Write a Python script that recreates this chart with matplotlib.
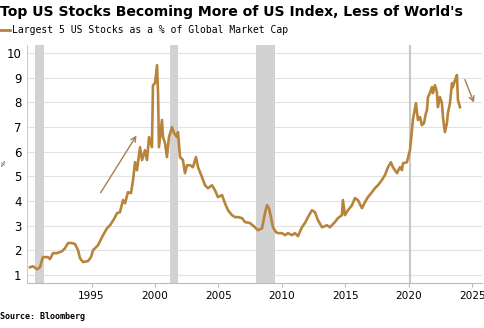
import matplotlib.pyplot as plt

# Largest 5 US stocks as % of global market cap
years = [1990.16, 1990.39, 1990.71, 1990.94, 1991.10, 1991.18, 1991.57, 1991.73, 1991.97, 1992.28,
         1992.68, 1992.91, 1993.15, 1993.46, 1993.70, 1993.94, 1994.09, 1994.33, 1994.72, 1994.96,
         1995.12, 1995.51, 1995.91, 1996.22, 1996.46, 1996.77, 1997.01, 1997.24, 1997.48, 1997.64,
         1997.87, 1998.11, 1998.27, 1998.43, 1998.58, 1998.82, 1998.98, 1999.21, 1999.37, 1999.53,
         1999.76, 1999.84, 2000.00, 2000.16, 2000.24, 2000.31, 2000.55, 2000.63, 2000.79, 2000.94,
         2001.10, 2001.34, 2001.50, 2001.73, 2001.81, 2001.97, 2002.20, 2002.36, 2002.52, 2002.76,
         2002.99, 2003.23, 2003.39, 2003.70, 2003.94, 2004.17, 2004.49, 2004.72, 2004.96, 2005.28,
         2005.51, 2005.75, 2006.06, 2006.30, 2006.54, 2006.85, 2007.09, 2007.48, 2007.87, 2008.11,
         2008.43, 2008.66, 2008.82, 2008.98, 2009.13, 2009.29, 2009.53, 2009.69, 2010.00, 2010.24,
         2010.47, 2010.79, 2011.02, 2011.26, 2011.57, 2011.81, 2012.05, 2012.36, 2012.60, 2012.83,
         2013.15, 2013.54, 2013.78, 2014.17, 2014.41, 2014.72, 2014.80, 2014.96, 2015.20, 2015.51,
         2015.75, 2015.98, 2016.30, 2016.54, 2016.77, 2017.09, 2017.32, 2017.56, 2017.87, 2018.11,
         2018.35, 2018.58, 2018.74, 2019.06, 2019.29, 2019.45, 2019.53, 2019.84, 2019.92, 2020.08,
         2020.24, 2020.31, 2020.55, 2020.71, 2020.87, 2021.02, 2021.18, 2021.34, 2021.42, 2021.50,
         2021.65, 2021.81, 2021.89, 2022.05, 2022.20, 2022.28, 2022.44, 2022.60, 2022.68, 2022.83,
         2022.99, 2023.07, 2023.23, 2023.39, 2023.46, 2023.62, 2023.78, 2023.86, 2024.02]
share = [1.32, 1.36, 1.24, 1.32, 1.61, 1.73, 1.73, 1.65, 1.89, 1.89,
         1.97, 2.09, 2.30, 2.30, 2.26, 2.01, 1.69, 1.53, 1.57, 1.73,
         2.01, 2.21, 2.62, 2.90, 3.02, 3.27, 3.51, 3.55, 4.04, 3.91,
         4.36, 4.32, 4.85, 5.57, 5.25, 6.18, 5.66, 6.06, 5.66, 6.59,
         6.18, 8.69, 8.77, 9.50, 8.37, 6.18, 7.28, 6.59, 6.34, 5.78,
         6.59, 6.99, 6.75, 6.59, 6.79, 5.78, 5.66, 5.13, 5.45, 5.45,
         5.37, 5.78, 5.37, 4.97, 4.64, 4.52, 4.64, 4.44, 4.16, 4.24,
         3.91, 3.63, 3.43, 3.35, 3.35, 3.31, 3.15, 3.11, 2.94, 2.82,
         2.90, 3.51, 3.83, 3.71, 3.35, 2.94, 2.74, 2.70, 2.70, 2.62,
         2.70, 2.62, 2.70, 2.58, 2.94, 3.11, 3.35, 3.63, 3.55, 3.23,
         2.94, 3.02, 2.94, 3.15, 3.31, 3.43, 4.04, 3.43, 3.63, 3.83,
         4.12, 4.04, 3.71, 3.96, 4.16, 4.36, 4.52, 4.64, 4.85, 5.05,
         5.37, 5.57, 5.37, 5.13, 5.37, 5.25, 5.53, 5.57, 5.74, 6.06,
         6.87, 7.28, 7.96, 7.28, 7.40, 7.07, 7.15, 7.56, 7.68, 8.21,
         8.37, 8.61, 8.37, 8.69, 8.41, 7.80, 8.21, 7.96, 7.40, 6.79,
         7.15, 7.56, 7.96, 8.77, 8.61, 8.89, 9.10, 8.09, 7.80]

recessions = [(1990.55, 1991.22), (2001.2, 2001.85), (2007.95, 2009.45)]
covid_line = 2020.12

xticks = [1995, 2000, 2005, 2010, 2015, 2020, 2025]
yticks = list(range(1, 11))

line_color = '#b8843c'
arrow_color = '#a4804f'

fig = plt.figure(figsize=(4.85, 3.28), dpi=100)
ax = fig.add_axes([0.0557, 0.137, 0.938, 0.726])

for start, end in recessions:
    ax.axvspan(start, end, color='#d2d2d2', lw=0, zorder=1)
ax.axvline(covid_line, color='#c8c8c8', lw=1.5, zorder=1)

ax.plot(years, share, color=line_color, lw=1.9, zorder=3)

ax.annotate('', xy=(1998.66, 6.75), xytext=(1995.6, 4.24),
            arrowprops=dict(arrowstyle='->', color=arrow_color, lw=1.0, mutation_scale=9))
ax.annotate('', xy=(2025.2, 7.88), xytext=(2024.33, 9.02),
            arrowprops=dict(arrowstyle='->', color=arrow_color, lw=1.0, mutation_scale=9))

ax.set_xlim(1989.92, 2025.75)
ax.set_ylim(0.68, 10.32)
ax.set_xticks(xticks)
ax.set_yticks(yticks)
ax.grid(axis='y', color='#e2e2e2', lw=0.8, zorder=0)
ax.set_axisbelow(True)
ax.tick_params(axis='y', length=0, labelsize=8.5, pad=4)
ax.tick_params(axis='x', length=3, color='#bbbbbb', labelsize=7.6, pad=3)
for s in ['top', 'right']:
    ax.spines[s].set_visible(False)
ax.spines['left'].set_color('#cccccc')
ax.spines['bottom'].set_color('#bbbbbb')

fig.text(0.008, 0.503, '%', rotation=90, fontsize=4.5, ha='center', va='center')

fig.text(0.0, 0.962, "Top US Stocks Becoming More of US Index, Less of World's",
         fontsize=10.1, fontweight='bold', ha='left', va='center')
fig.add_artist(plt.Line2D([0.0, 0.02], [0.908, 0.908], color=line_color, lw=2))
fig.text(0.025, 0.908, 'Largest 5 US Stocks as a % of Global Market Cap',
         family='DejaVu Sans Mono', fontsize=7, ha='left', va='center')
fig.text(0.0, 0.035, 'Source: Bloomberg', family='DejaVu Sans Mono',
         fontweight='bold', fontsize=6, ha='left', va='center')

fig.savefig('out.png', dpi=100)
